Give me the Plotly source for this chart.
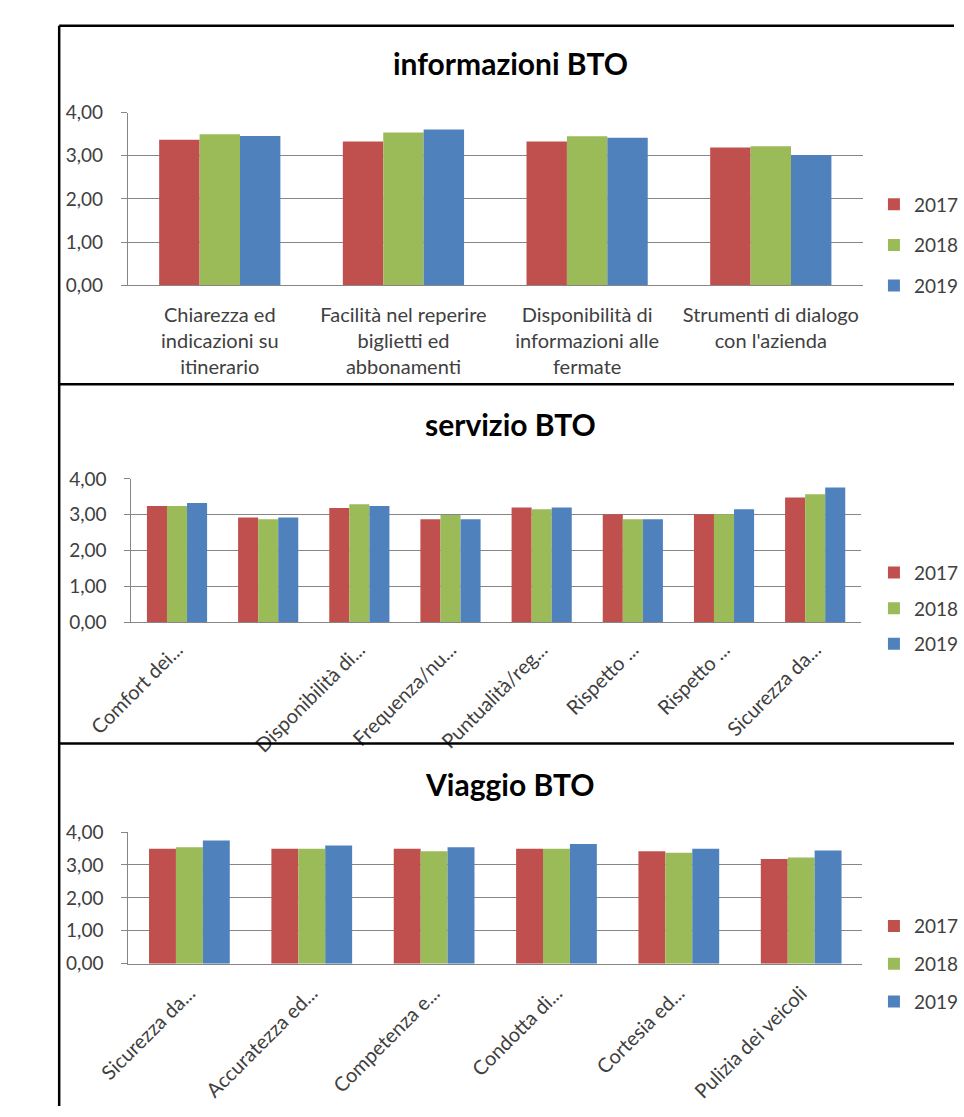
import plotly.graph_objects as go

W, H = 964, 1117

years = ["2017", "2018", "2019"]
colors = ["#C0504D", "#9BBB59", "#4F81BD"]

info_title = "informazioni BTO"
info_labels = [
    "Chiarezza ed<br>indicazioni su<br>itinerario",
    "Facilità nel reperire<br>biglietti ed<br>abbonamenti",
    "Disponibilità di<br>informazioni alle<br>fermate",
    "Strumenti di dialogo<br>con l'azienda",
]
info_2017 = [3.37, 3.33, 3.33, 3.19]
info_2018 = [3.50, 3.54, 3.45, 3.22]
info_2019 = [3.46, 3.61, 3.42, 3.02]

serv_title = "servizio BTO"
serv_labels = ["Comfort dei...", "", "Disponibilità di...", "Frequenza/nu...",
               "Puntualità/reg...", "Rispetto ...", "Rispetto ...", "Sicurezza da..."]
serv_2017 = [3.24, 2.92, 3.19, 2.87, 3.20, 3.01, 3.01, 3.48]
serv_2018 = [3.24, 2.87, 3.29, 2.99, 3.15, 2.87, 3.01, 3.57]
serv_2019 = [3.33, 2.92, 3.24, 2.87, 3.20, 2.87, 3.15, 3.76]

viag_title = "Viaggio BTO"
viag_labels = ["Sicurezza da...", "Accuratezza ed...", "Competenza e...",
               "Condotta di...", "Cortesia ed...", "Pulizia dei veicoli"]
viag_2017 = [3.49, 3.49, 3.49, 3.49, 3.42, 3.18]
viag_2018 = [3.54, 3.49, 3.42, 3.49, 3.37, 3.23]
viag_2019 = [3.74, 3.59, 3.54, 3.64, 3.49, 3.44]

y_ticks = [0, 1, 2, 3, 4]


def fx(px):
    return px / W


def fy(py):
    return 1 - py / H


FONT = "Lato"
TXT = "#404040"
GRID = "#868686"

panels = [
    dict(title=info_title, labels=info_labels, vals=[info_2017, info_2018, info_2019],
         x0=87, x1=867, ytop=102.7, ybot=279, title_y=52, legend_y=177, gap=13,
         angle=0, xlen=12, xfont=20),
    dict(title=serv_title, labels=serv_labels, vals=[serv_2017, serv_2018, serv_2019],
         x0=90.7, x1=865, ytop=476.7, ybot=623, title_y=421, legend_y=553, gap=8,
         angle=-45, xlen=7, xfont=20),
    dict(title=viag_title, labels=viag_labels, vals=[viag_2017, viag_2018, viag_2019],
         x0=87.3, x1=866.7, ytop=837.3, ybot=971.7, title_y=788, legend_y=914, gap=10,
         angle=-45, xlen=9, xfont=20),
]

fig = go.Figure()
layout = dict(
    width=W, height=H, margin=dict(l=0, r=0, t=0, b=0),
    paper_bgcolor="white", plot_bgcolor="white",
    barmode="group", bargap=0.34, bargroupgap=0,
    separators=",.",
    font=dict(family=FONT, size=19, color=TXT),
    annotations=[], shapes=[],
)

for i, p in enumerate(panels):
    sfx = "" if i == 0 else str(i + 1)
    n = len(p["labels"])
    xs = list(range(n))
    legname = "legend" + sfx
    for k in range(3):
        fig.add_trace(go.Bar(
            x=xs, y=p["vals"][k], name=years[k],
            marker=dict(color=colors[k], line=dict(width=0)),
            xaxis="x" + sfx, yaxis="y" + sfx,
            legend=legname, legendgroup=f"p{i}_{k}",
        ))
    layout["xaxis" + sfx] = dict(
        domain=[fx(p["x0"]), fx(p["x1"])], anchor="y" + sfx,
        range=[-0.5, n - 0.5], tickmode="array", tickvals=xs, ticktext=p["labels"],
        tickangle=p["angle"], showgrid=False, zeroline=False,
        showline=True, linecolor=GRID, linewidth=1,
        ticks="outside", ticklen=p["xlen"], tickcolor="rgba(0,0,0,0)",
        tickfont=dict(family=FONT, size=p["xfont"], color=TXT), fixedrange=True,
    )
    layout["yaxis" + sfx] = dict(
        domain=[fy(p["ybot"]), fy(p["ytop"])], anchor="x" + sfx,
        range=[0, 4], tickmode="array", tickvals=y_ticks, tickformat=".2f",
        showgrid=True, gridcolor=GRID, gridwidth=1, zeroline=False,
        showline=True, linecolor=GRID, linewidth=1,
        ticks="outside", ticklen=6, tickcolor=GRID,
        ticklabelstandoff=14,
        tickfont=dict(family=FONT, size=19, color=TXT), fixedrange=True,
    )
    layout[legname] = dict(
        x=fx(879), xanchor="left", y=fy(p["legend_y"]), yanchor="top",
        bgcolor="rgba(0,0,0,0)", borderwidth=0,
        font=dict(family=FONT, size=19, color=TXT),
        tracegroupgap=p["gap"], traceorder="grouped",
        itemclick=False, itemdoubleclick=False,
    )
    layout["annotations"].append(dict(
        text=f"<b>{p['title']}</b>", x=fx(493), y=fy(p["title_y"]),
        xref="paper", yref="paper", xanchor="center", yanchor="middle",
        showarrow=False, font=dict(family=FONT, size=30, color="#000000"),
    ))

# panel frames
border = dict(color="#000000", width=2.5)
layout["shapes"] = [
    dict(type="line", xref="paper", yref="paper", x0=fx(14), x1=fx(14), y0=fy(14), y1=0, line=border),
    dict(type="line", xref="paper", yref="paper", x0=fx(14), x1=1, y0=fy(14), y1=fy(14), line=border),
    dict(type="line", xref="paper", yref="paper", x0=fx(14), x1=1, y0=fy(380), y1=fy(380), line=border),
    dict(type="line", xref="paper", yref="paper", x0=fx(14), x1=1, y0=fy(747), y1=fy(747), line=border),
]

fig.update_layout(**layout)
fig.write_html(
    "out.html",
    config={"displayModeBar": False, "staticPlot": True},
    post_script="document.body.style.margin='0';document.body.style.overflow='hidden';",
)
